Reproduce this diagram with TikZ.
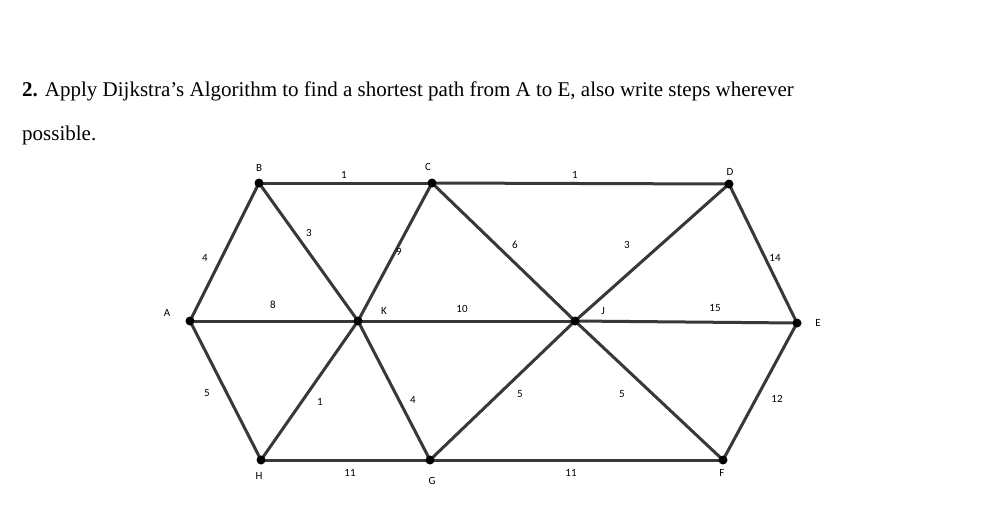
\documentclass[tikz,border=0pt]{standalone}
\usepackage{fontspec}
\setmainfont{Liberation Serif}
\newfontfamily\lblfont{Carlito}
\begin{document}
\begin{tikzpicture}[x=1pt,y=-1pt,
  edge/.style={line width=3pt,draw=black!78},
  vert/.style={circle,fill=black,inner sep=0pt,minimum size=9pt},
  lbl/.style={font=\lblfont\fontsize{11}{13}\selectfont,inner sep=0pt}]
\useasboundingbox[fill=white] (0,0) rectangle (994,528);
\node[anchor=base west,inner sep=0pt,font=\fontsize{21}{25}\selectfont] (t1) at (22,96) {\textbf{2.} Apply Dijkstra’s Algorithm to find a shortest path from A to E, also write steps wherever};
\node[anchor=base west,inner sep=0pt,font=\fontsize{21}{25}\selectfont] (t2) at (22,140) {possible.};
\coordinate (A) at (190,321); \coordinate (B) at (259,183); \coordinate (C) at (432,183);
\coordinate (D) at (729,184); \coordinate (E) at (797,323); \coordinate (K) at (358,321);
\coordinate (J) at (575,321); \coordinate (H) at (261,460); \coordinate (G) at (430,460);
\coordinate (F) at (723,460);
\foreach \a/\b in {A/B,B/C,C/D,D/E,A/K,K/J,J/E,A/H,H/G,G/F,F/E,B/K,C/K,K/H,K/G,C/J,D/J,J/G,J/F}
  \draw[edge] (\a) -- (\b);
\foreach \v in {A,B,C,D,E,K,J,H,G,F} \node[vert] (n\v) at (\v) {};
\foreach \n/\x/\y in {A/167/313,B/259/168,C/428/167,D/730/172,E/818/323,K/384/311,J/603/311,H/259/476,G/432/481,F/722/473}
  \node[lbl] (l\n) at (\x,\y) {\n};
\foreach \t/\x/\y [count=\i] in {4/205/258,1/344/175,3/309/233,9/399/252,6/515/245,1/575/175,3/627/245,14/775/258,8/273/305,10/462/309,15/715/308,5/207/393,1/320/402,4/413/400,5/520/394,5/622/394,12/777/399,11/350/473,11/571/473}
  \node[lbl] (w\i) at (\x,\y) {\t};
\end{tikzpicture}
\end{document}
